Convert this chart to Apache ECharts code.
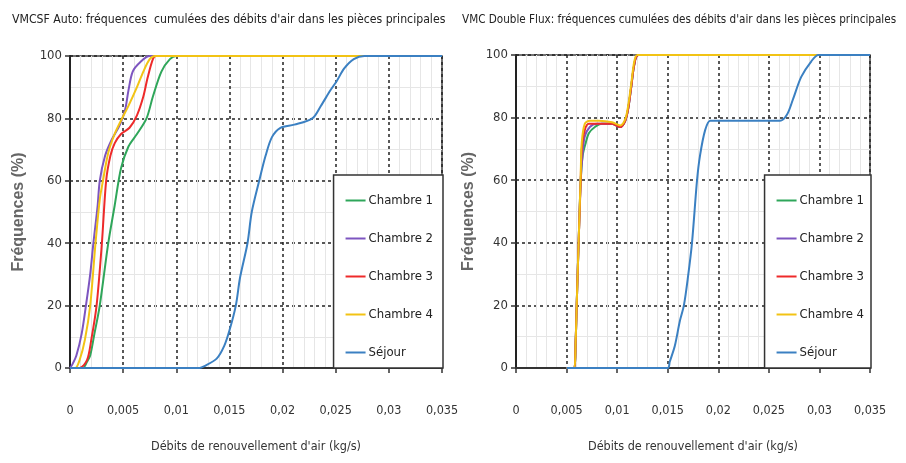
<!DOCTYPE html>
<html>
<head>
<meta charset="utf-8">
<script src="https://cdn.jsdelivr.net/npm/echarts@6/dist/echarts.min.js"></script>
<style>html,body{margin:0;padding:0;background:#fff}#c{width:906px;height:463px}</style>
</head>
<body>
<div id="c"></div>
<script>
// ---- Data ----
var seriesNames = ['Chambre 1', 'Chambre 2', 'Chambre 3', 'Chambre 4', 'Séjour'];
var titles = ['VMCSF Auto: fréquences  cumulées des débits d\'air dans les pièces principales',
              'VMC Double Flux: fréquences cumulées des débits d\'air dans les pièces principales'];
var xTickLabels = ['0', '0,005', '0,01', '0,015', '0,02', '0,025', '0,03', '0,035'];
var yTickLabels = ['0', '20', '40', '60', '80', '100'];
var xAxisName = 'Débits de renouvellement d\'air (kg/s)';
var yAxisName = 'Fréquences (%)';

// VMCSF Auto  [debit kg/s, frequence %]
var autoChambre1 = [[0,0],[0.0012,0],[0.0016,2],[0.0019,4],[0.0023,11],[0.0028,20],[0.0036,40],[0.0042,52],[0.0048,64],[0.0055,71],[0.0063,75],[0.0072,80],[0.0078,87],[0.0086,95],[0.0094,99],[0.0100,100],[0.035,100]];
var autoChambre2 = [[0,0],[0.0002,1],[0.0006,4],[0.0011,11],[0.0015,20],[0.0019,30],[0.0022,40],[0.0026,52],[0.0028,60],[0.0033,68],[0.0039,73],[0.0047,78],[0.0052,83],[0.0055,89],[0.0059,95],[0.0066,98],[0.0075,100],[0.035,100]];
var autoChambre3 = [[0,0],[0.0009,0],[0.0016,2.5],[0.0020,9],[0.0025,20],[0.0030,40],[0.0034,60],[0.0038,68],[0.0042,72],[0.0048,75],[0.0056,77],[0.0063,81],[0.0069,87],[0.0073,93],[0.0078,99],[0.0081,100],[0.035,100]];
var autoChambre4 = [[0,0],[0.0005,0],[0.0009,2.5],[0.0014,9],[0.0019,20],[0.0024,40],[0.0028,54],[0.0031,60],[0.0036,69],[0.0042,75],[0.0049,80],[0.0055,84],[0.0063,90],[0.0069,95],[0.0075,99],[0.0080,100],[0.035,100]];
var autoSejour = [[0,0],[0.0122,0],[0.0126,0.5],[0.0138,3],[0.0145,7],[0.0150,12],[0.0156,20],[0.0160,29],[0.0167,40],[0.0171,50],[0.0178,60],[0.0184,68],[0.0190,74],[0.0198,77],[0.0211,78],[0.0228,80],[0.0236,84],[0.0245,89],[0.0251,92],[0.0258,96],[0.0267,99],[0.0277,100],[0.035,100]];

// VMC Double Flux
var dfChambre1 = [[0.005,0],[0.0057,0],[0.0059,9],[0.0060,20],[0.0062,41],[0.0064,60],[0.0066,68],[0.0069,72],[0.0072,75],[0.0078,77],[0.0085,78],[0.0095,78],[0.0103,77],[0.0108,79],[0.0111,83],[0.0114,90],[0.0117,97],[0.0121,100],[0.035,100]];
var dfChambre2 = [[0.005,0],[0.0057,0],[0.0059,9],[0.0060,20],[0.0062,41],[0.0064,60],[0.0066,69],[0.0068,74],[0.0073,77],[0.0080,78],[0.0095,78],[0.0103,77],[0.0108,79],[0.0111,83],[0.0114,90],[0.0117,97],[0.0121,100],[0.035,100]];
var dfChambre3 = [[0.005,0],[0.0057,0],[0.0059,9],[0.0060,20],[0.0062,41],[0.0064,60],[0.0065,70],[0.0068,76],[0.0072,78],[0.0080,78],[0.0095,78],[0.0103,77],[0.0108,79],[0.0111,83],[0.0114,90],[0.0117,97],[0.0121,100],[0.035,100]];
var dfChambre4 = [[0.005,0],[0.0057,0],[0.0059,9],[0.0060,20],[0.0062,41],[0.0064,62],[0.0065,72],[0.0068,78],[0.0073,79],[0.0082,79],[0.0095,78.5],[0.0103,77.5],[0.0108,79.5],[0.0111,84],[0.0114,91],[0.0117,98],[0.0120,100],[0.035,100]];
var dfSejour = [[0.005,0],[0.0150,0],[0.0152,2],[0.0157,7],[0.0162,15],[0.0166,20],[0.0170,29],[0.0174,40],[0.0179,60],[0.0182,68],[0.0187,76],[0.0192,79],[0.0198,79],[0.0261,79],[0.0268,81],[0.0274,86],[0.0282,93],[0.0292,98],[0.0299,100],[0.035,100]];

var colors = ['#2fa65a', '#7d55c0', '#ee2a2a', '#f2c314', '#3b80c2'];

// ---- Chart ----
var FONT = "'DejaVu Sans Condensed', 'Liberation Sans Narrow', 'Noto Sans', sans-serif";
var chart = echarts.init(document.getElementById('c'), null, {renderer: 'canvas'});

var grids = [
  {left: 70, top: 56, width: 372, height: 312, show: true, borderColor: '#444', borderWidth: 1.5, backgroundColor: 'transparent'},
  {left: 516, top: 55, width: 354, height: 313, show: true, borderColor: '#444', borderWidth: 1.5, backgroundColor: 'transparent'}
];

function xAxisFor(i) {
  return {
    gridIndex: i, type: 'value', min: 0, max: 0.035, interval: 0.005,
    name: xAxisName, nameLocation: 'middle', nameGap: 72,
    nameTextStyle: {fontFamily: FONT, fontSize: 12.5, color: '#333'},
    axisLine: {show: true, onZero: false, lineStyle: {color: '#333', width: 2}},
    axisTick: {show: true, length: 5, lineStyle: {color: '#333', width: 1.5}},
    axisLabel: {margin: 36, fontFamily: FONT, fontSize: 12.5, color: '#333',
      formatter: function (v) { return xTickLabels[Math.round(v / 0.005)]; }},
    splitLine: {show: true, lineStyle: {color: '#222', width: 1.5, type: [3, 3]}},
    minorTick: {show: false, splitNumber: 5},
    minorSplitLine: {show: true, lineStyle: {color: '#e6e6e6', width: 1}}
  };
}
function yAxisFor(i, gap) {
  return {
    gridIndex: i, type: 'value', min: 0, max: 100, interval: 20,
    name: yAxisName, nameLocation: 'middle', nameGap: gap, nameRotate: 90,
    nameTextStyle: {fontFamily: "'Liberation Sans', 'DejaVu Sans', sans-serif", fontSize: 16, fontWeight: 'bold', color: '#666'},
    axisLine: {show: true, lineStyle: {color: '#222', width: 2}},
    axisTick: {show: true, length: 5, lineStyle: {color: '#333', width: 1.5}},
    axisLabel: {margin: 8, fontFamily: FONT, fontSize: 13, color: '#333',
      formatter: function (v) { return yTickLabels[Math.round(v / 20)]; }},
    splitLine: {show: true, lineStyle: {color: '#222', width: 1.5, type: [3, 3]}},
    minorTick: {show: false, splitNumber: 2},
    minorSplitLine: {show: true, lineStyle: {color: '#e6e6e6', width: 1}}
  };
}

var autoData = [autoChambre1, autoChambre2, autoChambre3, autoChambre4, autoSejour];
var dfData = [dfChambre1, dfChambre2, dfChambre3, dfChambre4, dfSejour];
var series = [];
[autoData, dfData].forEach(function (set, gi) {
  set.forEach(function (d, k) {
    series.push({
      name: seriesNames[k], type: 'line', xAxisIndex: gi, yAxisIndex: gi,
      data: d, smooth: 0.3, symbol: 'none', showSymbol: false, clip: true,
      lineStyle: {color: colors[k], width: 2}, itemStyle: {color: colors[k]},
      emphasis: {disabled: true}, animation: false, z: 3
    });
  });
});

function legendFor(right, padRight) {
  return {
    data: seriesNames, orient: 'vertical', right: right, bottom: 95,
    backgroundColor: '#fff', borderColor: '#333', borderWidth: 1.5,
    padding: [19, padRight, 9, 12], itemGap: 25, itemWidth: 20, itemHeight: 14,
    icon: 'path://M0,6 L20,6 L20,8 L0,8 Z',
    textStyle: {fontFamily: FONT, fontSize: 13, color: '#222', padding: [0, 0, 0, -2]},
    selectedMode: false
  };
}

chart.setOption({
  backgroundColor: '#fff',
  animation: false,
  color: colors,
  title: [
    {text: titles[0], left: 7, top: 9, textStyle: {fontFamily: FONT, fontSize: 12.2, fontWeight: 'normal', color: '#222'}},
    {text: titles[1], left: 457, top: 9, textStyle: {fontFamily: FONT, fontSize: 11.6, fontWeight: 'normal', color: '#222'}}
  ],
  grid: grids,
  xAxis: [xAxisFor(0), xAxisFor(1)],
  yAxis: [yAxisFor(0, 43), yAxisFor(1, 39)],
  legend: [legendFor(906 - 443, 10), legendFor(906 - 871, 7)],
  series: series
});
</script>
</body>
</html>
